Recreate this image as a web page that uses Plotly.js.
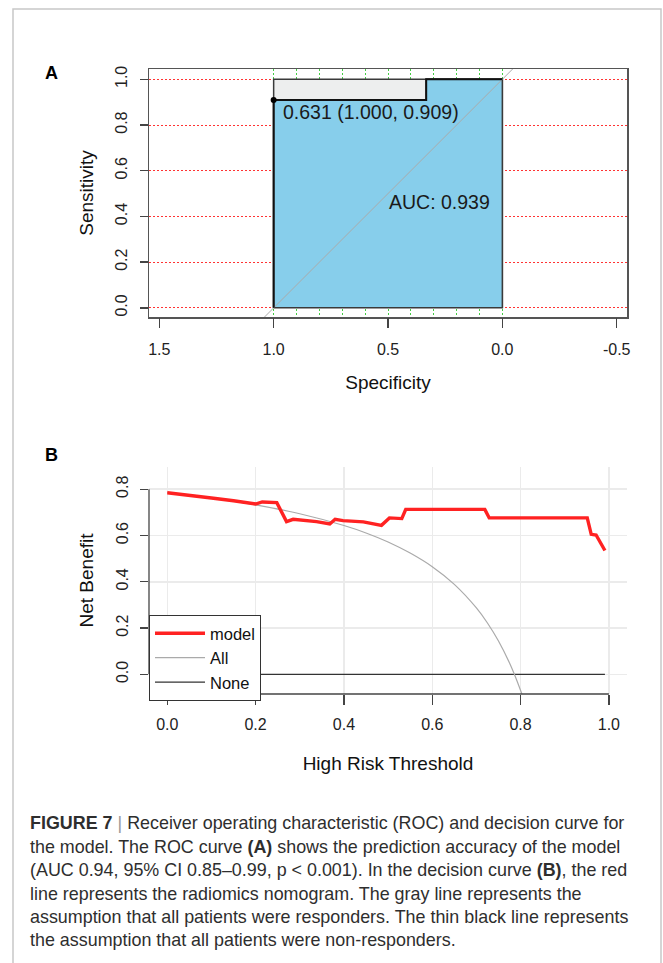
<!DOCTYPE html>
<html>
<head>
<meta charset="utf-8">
<script src="https://cdn.plot.ly/plotly-3.0.1.min.js"></script>
<style>
html,body{margin:0;padding:0;background:#fff;}
#chart{width:663px;height:963px;}
</style>
</head>
<body>
<div id="chart"></div>
<script>
// ---------- Panel A: ROC ----------
const rocSpec = [1.0, 1.0, 0.333, 0.333, 0.0];
const rocSens = [0.0, 0.909, 0.909, 1.0, 1.0];
const maxSpec = [1.0, 1.0, 0.0, 0.0];
const maxSens = [0.0, 1.0, 1.0, 0.0];
const refSpec = [1.7, -0.7];
const refSens = [-0.7, 1.7];
const thrSpec = [1.0];
const thrSens = [0.909];
const thrLabel = "0.631 (1.000, 0.909)";
const aucLabel = "AUC: 0.939";
const specTicks = [1.5, 1.0, 0.5, 0.0, -0.5];
const specTickText = ["1.5", "1.0", "0.5", "0.0", "-0.5"];
const specGrid = [0.0, 0.1, 0.2, 0.3, 0.4, 0.5, 0.6, 0.7, 0.8, 0.9, 1.0];
const sensTicks = [0.0, 0.2, 0.4, 0.6, 0.8, 1.0];
const sensTickText = ["0.0", "0.2", "0.4", "0.6", "0.8", "1.0"];

// ---------- Panel B: decision curve ----------
const modelThr = [0.0, 0.05, 0.1, 0.15, 0.2, 0.215, 0.248, 0.27, 0.285, 0.338, 0.368, 0.38, 0.398, 0.444, 0.485, 0.503, 0.531, 0.540, 0.719, 0.729, 0.951, 0.960, 0.971, 0.991];
const modelNB  = [0.785, 0.775, 0.762, 0.750, 0.736, 0.745, 0.742, 0.660, 0.670, 0.660, 0.650, 0.670, 0.664, 0.659, 0.644, 0.676, 0.673, 0.713, 0.713, 0.676, 0.676, 0.605, 0.602, 0.535];
const allThr = [0.0, 0.1, 0.2, 0.3, 0.4, 0.45, 0.5, 0.55, 0.6, 0.65, 0.7, 0.725, 0.75, 0.775, 0.79, 0.803];
const allNB  = [0.786, 0.762, 0.732, 0.694, 0.643, 0.611, 0.572, 0.524, 0.465, 0.389, 0.287, 0.222, 0.144, 0.049, -0.019, -0.085];
const noneThr = [0.0, 0.991];
const noneNB  = [0.0, 0.0];
const thrTicks = [0.0, 0.2, 0.4, 0.6, 0.8, 1.0];
const thrTickText = ["0.0", "0.2", "0.4", "0.6", "0.8", "1.0"];
const nbTicks = [0.0, 0.2, 0.4, 0.6, 0.8];
const nbTickText = ["0.0", "0.2", "0.4", "0.6", "0.8"];

const captionLines = [
  '<b>FIGURE 7</b> <span style="color:#9a9a9a">|</span> Receiver operating characteristic (ROC) and decision curve for',
  'the model. The ROC curve <b>(A)</b> shows the prediction accuracy of the model',
  '(AUC 0.94, 95% CI 0.85–0.99, p &lt; 0.001). In the decision curve <b>(B)</b>, the red',
  'line represents the radiomics nomogram. The gray line represents the',
  'assumption that all patients were responders. The thin black line represents',
  'the assumption that all patients were non-responders.'
];

const W = 663, H = 963;
const px = v => v / W;
const py = v => 1 - v / H;
const FONT = 'Liberation Sans, Arial, sans-serif';

const traces = [
  // Panel A
  {x: maxSpec, y: maxSens, xaxis: 'x', yaxis: 'y', type: 'scatter', mode: 'lines',
   fill: 'toself', fillcolor: '#EDEEEE', line: {color: '#3a3a3a', width: 1.5}, showlegend: false, hoverinfo: 'skip'},
  {x: rocSpec.concat([0.0, 1.0]), y: rocSens.concat([0.0, 0.0]), xaxis: 'x', yaxis: 'y', type: 'scatter', mode: 'lines',
   fill: 'toself', fillcolor: '#87CEEB', line: {color: '#3a3a3a', width: 1.5}, showlegend: false, hoverinfo: 'skip'},
  {x: refSpec, y: refSens, xaxis: 'x', yaxis: 'y', type: 'scatter', mode: 'lines',
   line: {color: '#AAAAAA', width: 1}, showlegend: false, hoverinfo: 'skip'},
  {x: rocSpec, y: rocSens, xaxis: 'x', yaxis: 'y', type: 'scatter', mode: 'lines',
   line: {color: '#111111', width: 2}, showlegend: false},
  {x: thrSpec, y: thrSens, xaxis: 'x', yaxis: 'y', type: 'scatter', mode: 'markers',
   marker: {color: '#000', size: 6}, showlegend: false},
  {x: [], y: [], xaxis: 'x3', yaxis: 'y', type: 'scatter', mode: 'lines', showlegend: false},
  // Panel B (draw order: None, All, model; legend reversed)
  {x: noneThr, y: noneNB, xaxis: 'x2', yaxis: 'y2', type: 'scatter', mode: 'lines', name: 'None',
   line: {color: '#333333', width: 1.3}},
  {x: allThr, y: allNB, xaxis: 'x2', yaxis: 'y2', type: 'scatter', mode: 'lines', name: 'All',
   line: {color: '#AAAAAA', width: 1.2, shape: 'spline', smoothing: 0.6}},
  {x: modelThr, y: modelNB, xaxis: 'x2', yaxis: 'y2', type: 'scatter', mode: 'lines', name: 'model',
   line: {color: '#FF2222', width: 3.4}}
];

const annotations = [
  {xref: 'paper', yref: 'paper', x: px(51), y: py(73), text: '<b>A</b>', showarrow: false,
   font: {family: FONT, size: 18, color: '#000'}, xanchor: 'center', yanchor: 'middle'},
  {xref: 'paper', yref: 'paper', x: px(51), y: py(455), text: '<b>B</b>', showarrow: false,
   font: {family: FONT, size: 18, color: '#000'}, xanchor: 'center', yanchor: 'middle'},
  {xref: 'x', yref: 'y', x: thrSpec[0], y: 0.857, text: thrLabel, showarrow: false, xanchor: 'left', yanchor: 'middle',
   xshift: 7, font: {family: FONT, size: 19.5, color: '#1a1a1a'}},
  {xref: 'x', yref: 'y', x: 0.277, y: 0.463, text: aucLabel, showarrow: false, xanchor: 'center', yanchor: 'middle',
   font: {family: FONT, size: 19.5, color: '#1a1a1a'}}
];
const capY = [823, 847, 870, 894, 917, 940];
captionLines.forEach((t, i) => {
  annotations.push({xref: 'paper', yref: 'paper', x: px(28), y: py(capY[i]), text: t, showarrow: false,
    xanchor: 'left', yanchor: 'middle', align: 'left', font: {family: FONT, size: 17.9, color: '#2e2e2e'}});
});

const shapes = [
  {type: 'rect', xref: 'paper', yref: 'paper', x0: px(13), x1: px(661), y0: -0.05, y1: py(9),
   line: {color: '#C8C8C8', width: 1.5}, fillcolor: 'rgba(0,0,0,0)'},
  // panel B axis lines (R style: from first to last tick)
  {type: 'line', xref: 'x2', yref: 'paper', x0: thrTicks[0], x1: thrTicks[thrTicks.length - 1], y0: py(694), y1: py(694),
   line: {color: '#444', width: 1.3}},
  {type: 'line', xref: 'paper', yref: 'y2', x0: px(149), x1: px(149), y0: nbTicks[0], y1: nbTicks[nbTicks.length - 1],
   line: {color: '#444', width: 1.3}}
];

const tickFont = {family: FONT, size: 16, color: '#222'};
const titleFont = {family: FONT, size: 19, color: '#111'};

const layout = {
  width: W, height: H,
  margin: {l: 0, r: 0, t: 0, b: 0},
  paper_bgcolor: '#fff', plot_bgcolor: '#fff',
  font: {family: FONT},
  showlegend: true,
  legend: {x: px(149), y: py(615), xanchor: 'left', yanchor: 'top', bgcolor: '#fff', bordercolor: '#333', borderwidth: 1,
           traceorder: 'reversed', itemwidth: 50, tracegroupgap: 0,
           font: {family: FONT, size: 16.5, color: '#111'}},
  // Panel A axes
  xaxis: {domain: [px(149), px(627)], anchor: 'y', range: [1.545, -0.545], tickmode: 'array', tickvals: specGrid,
          showticklabels: false, ticks: '', showgrid: true, gridcolor: '#44CC44', griddash: '2px,2px', gridwidth: 1,
          showline: true, mirror: true, linecolor: '#555', linewidth: 1.5, zeroline: false, fixedrange: true},
  xaxis3: {domain: [px(149), px(627)], overlaying: 'x', anchor: 'y', side: 'bottom', range: [1.545, -0.545],
           tickmode: 'array', tickvals: specTicks, ticktext: specTickText, ticks: 'outside', ticklen: 10, tickwidth: 1.3,
           tickcolor: '#444', tickfont: tickFont, ticklabelstandoff: 8, showgrid: false, zeroline: false, showline: false,
           title: {text: 'Specificity', font: titleFont, standoff: 18}},
  yaxis: {domain: [py(317), py(69)], anchor: 'x', range: [-0.04, 1.045], tickmode: 'array', tickvals: sensTicks,
          ticktext: sensTickText, ticks: 'outside', ticklen: 8, tickwidth: 1.3, tickcolor: '#444', tickangle: -90,
          tickfont: tickFont, ticklabelstandoff: 6, showgrid: true, gridcolor: '#FF3333', griddash: '2px,2px', gridwidth: 1,
          showline: true, mirror: true, linecolor: '#555', linewidth: 1.5, zeroline: false,
          title: {text: 'Sensitivity', font: titleFont, standoff: 14}},
  // Panel B axes
  xaxis2: {domain: [px(149), px(627)], anchor: 'y2', range: [-0.0414, 1.041], tickmode: 'array', tickvals: thrTicks,
           ticktext: thrTickText, ticks: 'outside', ticklen: 10, tickwidth: 1.3, tickcolor: '#444', tickfont: tickFont,
           ticklabelstandoff: 6, showgrid: true, gridcolor: '#EBEBEB', gridwidth: 1.5, showline: false, zeroline: false,
           title: {text: 'High Risk Threshold', font: titleFont, standoff: 24}},
  yaxis2: {domain: [py(694), py(467)], anchor: 'x2', range: [-0.085, 0.896], tickmode: 'array', tickvals: nbTicks,
           ticktext: nbTickText, ticks: 'outside', ticklen: 8, tickwidth: 1.3, tickcolor: '#444', tickangle: -90,
           tickfont: tickFont, ticklabelstandoff: 6, showgrid: true, gridcolor: '#EBEBEB', gridwidth: 1.5, showline: false, zeroline: false,
           title: {text: 'Net Benefit', font: titleFont, standoff: 14}},
  annotations: annotations,
  shapes: shapes
};

Plotly.newPlot('chart', traces, layout, {displayModeBar: false, staticPlot: true});
</script>
</body>
</html>
